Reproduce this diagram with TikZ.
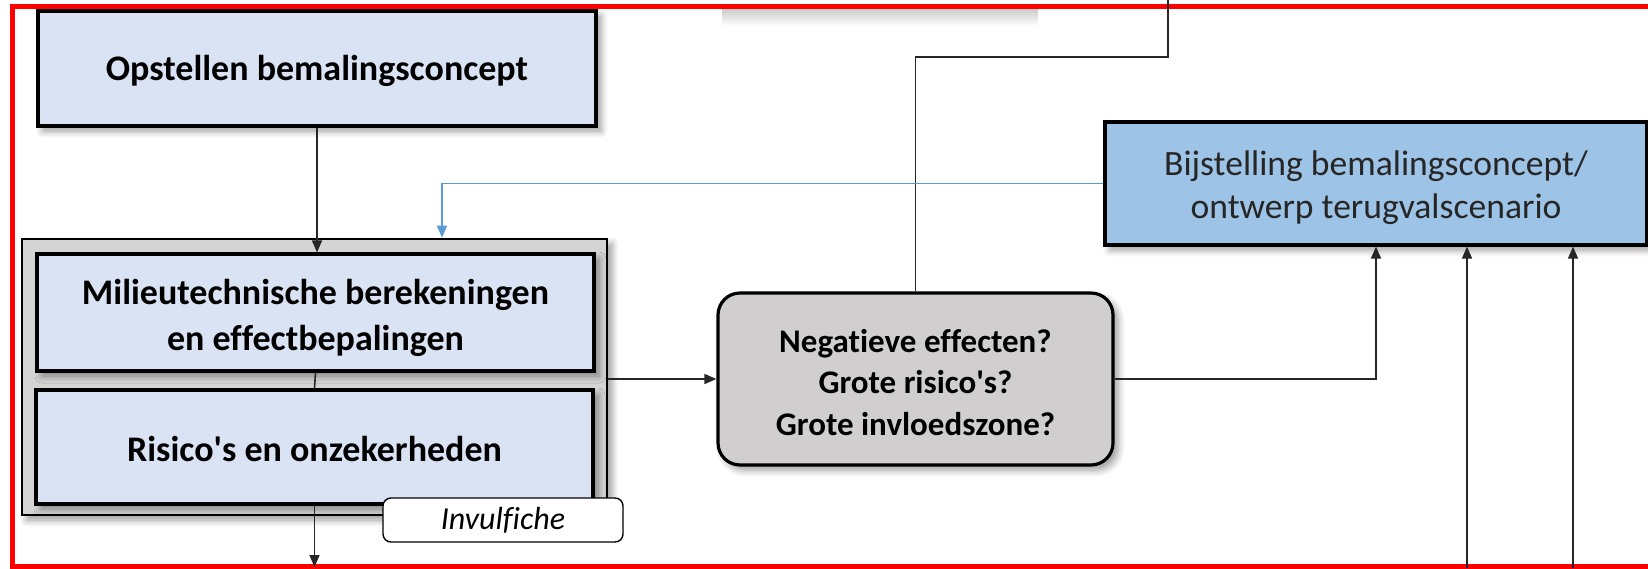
\documentclass[tikz,border=0pt]{standalone}
\usepackage{fontspec}
\setmainfont{Carlito}[Ligatures={TeX,NoCommon}]
\usetikzlibrary{arrows.meta,shadows,shadows.blur,calc}
\definecolor{lblue}{HTML}{DAE3F3}
\definecolor{mblue}{HTML}{9DC3E6}
\definecolor{lgrey}{HTML}{D4D4D4}
\definecolor{dgrey}{HTML}{D0CECE}
\definecolor{bline}{HTML}{5B9BD5}
\definecolor{conn}{HTML}{262626}
\definecolor{frame}{HTML}{FF0000}
\newcommand\tdown[1]{\rule{0pt}{#1}}
\begin{document}
\begin{tikzpicture}[x=0.5pt,y=-0.5pt,
  shad/.style={blur shadow={shadow xshift=2.5pt,shadow yshift=-2.5pt,shadow blur radius=3.5pt,shadow blur steps=6,shadow opacity=40}},
  box/.style={draw=black,line width=1.6pt,fill=lblue,shad,align=center,inner sep=0pt,
    font=\fontsize{18}{23}\selectfont\bfseries},
  outerbox/.style={draw=black,line width=1.3pt,fill=lgrey,shad,inner sep=0pt},
  decbox/.style={draw=black,line width=1.6pt,fill=dgrey,shad,rounded corners=11pt,align=center,inner sep=0pt,
    font=\fontsize{16.5}{20.75}\selectfont\bfseries},
  bluebox/.style={draw=black,line width=1.6pt,fill=mblue,shad,align=center,inner sep=0pt,
    text=black!85,font=\fontsize{17.8}{21.5}\selectfont},
  invbox/.style={draw=black,line width=0.7pt,fill=white,rounded corners=4pt,inner sep=0pt,
    font=\fontsize{16}{18}\selectfont\itshape},
  conn/.style={draw=conn,line width=0.8pt},
  arr/.style={conn,-{Triangle[length=6pt,width=5pt]}},
  barr/.style={draw=bline,line width=0.8pt,-{Triangle[length=6pt,width=5pt]}}
]
\useasboundingbox (0,0) rectangle (1648,568);
% shadow of a box above the crop
\shade[top color=black!20,bottom color=white] (722,9) rectangle (1038,26);
% red frame
\draw[frame,line width=2.5pt] (1700,6.7) -- (12,6.7) -- (12,566.5) -- (1700,566.5);

\node[box,minimum width=279pt,minimum height=57.5pt] (opst) at (317,68.5) {\tdown{15pt}Opstellen bemalingsconcept};
\node[outerbox,minimum width=292.5pt,minimum height=138pt] (outer) at (314.5,377) {};
\node[box,minimum width=278.5pt,minimum height=58.5pt] (mil) at (315.5,312.5) {\tdown{18pt}Milieutechnische berekeningen\\en effectbepalingen};
\node[box,minimum width=278.5pt,minimum height=57pt] (ris) at (314.5,447) {\tdown{15pt}Risico\textquotesingle s en onzekerheden};
\node[invbox,minimum width=120pt,minimum height=22pt] (inv) at (503,520) {Invulfiche};
\node[decbox,minimum width=197.5pt,minimum height=86pt] (dec) at (915.5,379) {\tdown{15pt}Negatieve effecten?\\Grote risico\textquotesingle s?\\Grote invloedszone?};
\node[bluebox,minimum width=271pt,minimum height=61.5pt] (blue) at (1376,183.5) {\tdown{17pt}Bijstelling bemalingsconcept/\\ontwerp terugvalscenario};

\coordinate (outA) at (316,567);
\coordinate (bend) at (1168,57);
\coordinate (topend) at (1168,0);
\coordinate (inA) at (1467,568);
\coordinate (inB) at (1573,568);

\draw[arr] (opst.south) -- (opst.south |- mil.north);
\draw[conn] (mil.south) -- (ris.north);
\draw[arr] (ris.south) -- (ris.south |- outA);
\draw[arr] (outer.east |- dec.west) -- (dec.west);
\draw[conn] (dec.north) |- (bend) -- (topend);
\draw[barr] (blue.west) -| ([xshift=63.75pt]outer.north);
\draw[arr] (dec.east) -| (blue.south);
\draw[arr] (inA) -- (inA |- blue.south);
\draw[arr] (inB) -- (inB |- blue.south);
\end{tikzpicture}
\end{document}
